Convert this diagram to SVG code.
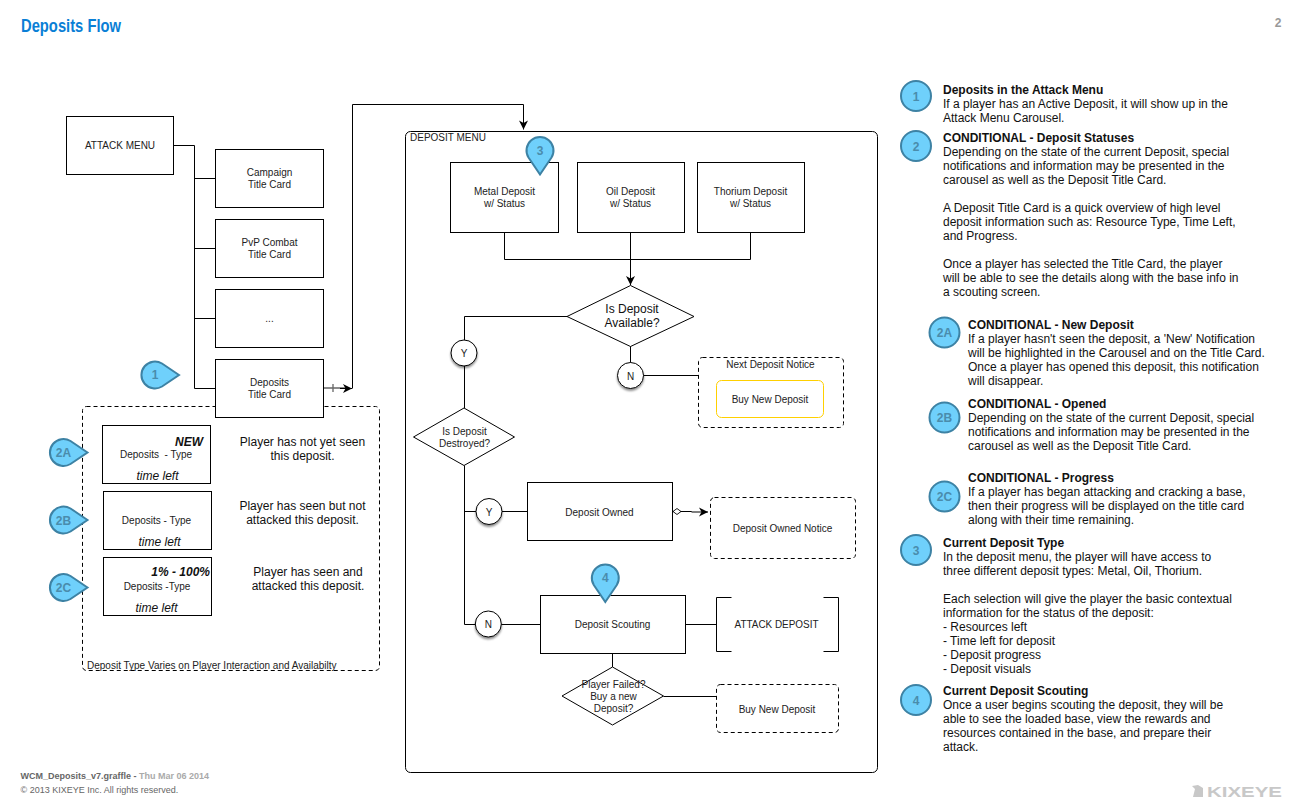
<svg xmlns="http://www.w3.org/2000/svg" width="1300" height="812" viewBox="0 0 1300 812">
<style>
text{font-family:"Liberation Sans",Arial,Helvetica,sans-serif;font-size:10px;fill:#222}
.m{text-anchor:middle}
.t12{font-size:12px;fill:#111}
.b{font-weight:bold}
.i{font-style:italic}
.box{fill:#fff;stroke:#000;stroke-width:1}
.dash{fill:#fff;stroke:#000;stroke-width:1;stroke-dasharray:4 3}
.con{fill:none;stroke:#000;stroke-width:1}
.ball{fill:#6fd0fb;stroke:#3d82a4;stroke-width:2}
.bt{font-size:12px;font-weight:bold;fill:#4a8cac;text-anchor:middle}
.yn{fill:#fff;stroke:#000;stroke-width:1;filter:url(#sh)}
</style>
<defs>
<filter id="sh" x="-30%" y="-30%" width="160%" height="170%"><feDropShadow dx="0" dy="2" stdDeviation="1.2" flood-color="#000" flood-opacity="0.45"/></filter>
<marker id="arr" markerUnits="userSpaceOnUse" markerWidth="13" markerHeight="12" refX="10" refY="6" orient="auto"><path d="M1 1.500 L10 6 L1 10.500 L3.500 6Z" fill="#000"/></marker>
<marker id="dia" markerUnits="userSpaceOnUse" markerWidth="12" markerHeight="8" refX="0" refY="4" orient="auto"><path d="M0.5 4 L4.500 1 L8.500 4 L4.500 7Z" fill="#fff" stroke="#000" stroke-width="0.9"/></marker>
<path id="dropR" class="ball" d="M24 0 L7 -11.500 A13.500 13.500 0 1 0 7 11.500Z"/>
<path id="dropD" class="ball" d="M0 24 L11.500 7 A13.500 13.500 0 1 0 -11.500 7Z"/>
</defs>
<rect width="1300" height="812" fill="#fff"/>

<text x="21" y="32" class="b" style="font-size:18px;fill:#0a7fd6" textLength="100" lengthAdjust="spacingAndGlyphs">Deposits Flow</text>
<text x="1278" y="27" class="b m" style="font-size:12px;fill:#999">2</text>

<g id="group-deposit-types">
<rect class="dash" x="82.5" y="406.5" width="297" height="264" rx="4"/>
<text x="87" y="669">Deposit Type Varies on Player Interaction and Availabilty</text>
</g>
<g id="group-deposit-menu">
<rect x="405.5" y="131.5" width="472" height="641" rx="5" fill="#fff" stroke="#000"/>
<text x="410" y="141">DEPOSIT MENU</text>
</g>

<g id="connectors">
<path class="con" d="M173.5 145.500H194.500M194.500 145.500V388.500M194.500 178.500H215.500M194.500 248.500H215.500M194.500 318.500H215.500M194.500 388.500H215.500"/>
<path d="M323.500 388H345M333 384V392" fill="none" stroke="#666" stroke-width="1.300"/>
<path class="con" d="M340 388.500H352" marker-end="url(#arr)"/>
<path class="con" d="M352.500 388.500V104.500H523.500V129.500" marker-end="url(#arr)"/>
<path class="con" d="M504.500 232.500V259.500H750.500V232.500M630.500 232.500V285" marker-end="url(#arr)"/>
<path class="con" d="M567.500 316.500H464.500V408"/>
<path class="con" d="M630.500 346V375.500H698.500"/>
<path class="con" d="M464.500 465.500V624.500H488M464.500 511.500H527.500M488 624.500H540.500"/>
<path class="con" d="M672.500 511.500H691.500V512H708" marker-start="url(#dia)" marker-end="url(#arr)"/>
<path class="con" d="M685.500 624.500H716.500M612.500 653.500V667M663.500 696.500H716.500"/>
</g>

<g id="attack-menu"><rect class="box" x="66.5" y="116.5" width="107" height="58"/><text class="m" x="120" y="149">ATTACK MENU</text></g>
<g id="campaign-card"><rect class="box" x="215.5" y="149.5" width="108" height="58"/><text class="m" x="269.5" y="176">Campaign</text><text class="m" x="269.5" y="188">Title Card</text></g>
<g id="pvp-card"><rect class="box" x="215.5" y="219.5" width="108" height="58"/><text class="m" x="269.5" y="246">PvP Combat</text><text class="m" x="269.5" y="258">Title Card</text></g>
<g id="more-card"><rect class="box" x="215.5" y="289.5" width="108" height="58"/><text class="m" x="269.5" y="322">...</text></g>
<g id="deposits-card"><rect class="box" x="215.5" y="359.5" width="108" height="58"/><text class="m" x="269.5" y="386">Deposits</text><text class="m" x="269.5" y="398">Title Card</text></g>

<g id="type-new"><rect class="box" x="102.5" y="425.5" width="108" height="58"/>
<text x="203" y="446" class="t12 b i" text-anchor="end">NEW</text><text x="120" y="458" xml:space="preserve">Deposits  - Type</text><text class="t12 i m" x="157.5" y="480">time left</text></g>
<g id="type-opened"><rect class="box" x="103.5" y="491.5" width="108" height="58"/>
<text class="m" x="156.5" y="524">Deposits - Type</text><text class="t12 i m" x="159.5" y="546">time left</text></g>
<g id="type-progress"><rect class="box" x="103.5" y="557.5" width="108" height="58"/>
<text x="210" y="576" class="t12 b i" text-anchor="end">1% - 100%</text><text class="m" x="157" y="590">Deposits -Type</text><text class="t12 i m" x="156.5" y="612">time left</text></g>

<g id="type-notes">
<text class="t12 m" x="302.5" y="446">Player has not yet seen</text><text class="t12 m" x="302.5" y="460">this deposit.</text>
<text class="t12 m" x="302.5" y="510">Player has seen but not</text><text class="t12 m" x="302.5" y="524">attacked this deposit.</text>
<text class="t12 m" x="308" y="576">Player has seen and</text><text class="t12 m" x="308" y="590">attacked this deposit.</text>
</g>

<g id="metal"><rect class="box" x="450.5" y="162.5" width="108" height="70"/><text class="m" x="504.5" y="195">Metal Deposit</text><text class="m" x="504.5" y="207">w/ Status</text></g>
<g id="oil"><rect class="box" x="577.5" y="162.5" width="107" height="70"/><text class="m" x="630.5" y="195">Oil Deposit</text><text class="m" x="630.5" y="207">w/ Status</text></g>
<g id="thorium"><rect class="box" x="697.5" y="162.5" width="107" height="70"/><text class="m" x="750.5" y="195">Thorium Deposit</text><text class="m" x="750.5" y="207">w/ Status</text></g>

<g id="available"><path class="box" d="M630.5 285.500L694 316.500L630.500 346.500L567 316.500Z"/><text class="t12 m" x="632" y="313">Is Deposit</text><text class="t12 m" x="632" y="327">Available?</text></g>
<g id="y1"><circle class="yn" cx="464" cy="353" r="13"/><text class="m" x="464" y="357">Y</text></g>
<g id="n1"><circle class="yn" cx="630.5" cy="375.5" r="13"/><text class="m" x="630.5" y="380">N</text></g>
<g id="next-notice"><rect class="dash" x="698.5" y="357.5" width="145" height="70" rx="4"/><text class="m" x="770.5" y="368">Next Deposit Notice</text>
<rect x="716.5" y="380.5" width="107" height="37" rx="5" fill="#fff" stroke="#ffd000"/><text class="m" x="770" y="403">Buy New Deposit</text></g>

<g id="destroyed"><path class="box" d="M464 408L514.500 437L464 465.500L413.500 437Z"/><text class="m" x="464.5" y="435">Is Deposit</text><text class="m" x="464.5" y="447">Destroyed?</text></g>
<g id="y2"><circle class="yn" cx="489" cy="511.5" r="13"/><text class="m" x="489" y="516">Y</text></g>
<g id="n2"><circle class="yn" cx="488.3" cy="624" r="13"/><text class="m" x="488.3" y="628">N</text></g>
<g id="owned"><rect class="box" x="527.5" y="482.5" width="145" height="58"/><text class="m" x="599.5" y="516">Deposit Owned</text></g>
<g id="owned-notice"><rect class="dash" x="710.5" y="497.5" width="145" height="61" rx="4"/><text class="m" x="782.5" y="532">Deposit Owned Notice</text></g>
<g id="scouting"><rect class="box" x="540.5" y="595.5" width="145" height="58"/><text class="m" x="612.5" y="628">Deposit Scouting</text></g>
<g id="attack-deposit"><path class="con" d="M731.500 597.500H716.500V651.500H731.500M823.500 597.500H838.500V651.500H823.500"/><text class="m" x="776.5" y="628" textLength="84" lengthAdjust="spacingAndGlyphs">ATTACK DEPOSIT</text></g>
<g id="failed"><path class="box" d="M612.500 667L663.500 696L612.500 725L562 696Z"/><text class="m" x="613.5" y="688">Player Failed?</text><text class="m" x="613.5" y="700">Buy a new</text><text class="m" x="613.5" y="712">Deposit?</text></g>
<g id="buy-new"><rect class="dash" x="716.5" y="684.5" width="122" height="48" rx="4"/><text class="m" x="777" y="713">Buy New Deposit</text></g>

<g id="marker-1"><use href="#dropR" x="155" y="375"/><text class="bt" x="155" y="379">1</text></g>
<g id="marker-2a"><use href="#dropR" x="63.5" y="452.5"/><text class="bt" x="63.5" y="457">2A</text></g>
<g id="marker-2b"><use href="#dropR" x="63.5" y="520"/><text class="bt" x="63.5" y="524.5">2B</text></g>
<g id="marker-2c"><use href="#dropR" x="63.5" y="587.5"/><text class="bt" x="63.5" y="592">2C</text></g>
<g id="marker-3"><use href="#dropD" x="540" y="150.5"/><text class="bt" x="540" y="155">3</text></g>
<g id="marker-4"><use href="#dropD" x="605.3" y="578"/><text class="bt" x="605.3" y="582">4</text></g>

<g id="legend-1"><circle class="ball" cx="916" cy="96" r="15"/><text class="bt" x="916" y="100.5">1</text>
<text class="t12 b" x="943" y="94">Deposits in the Attack Menu</text>
<text class="t12" x="943" y="108">If a player has an Active Deposit, it will show up in the</text>
<text class="t12" x="943" y="122">Attack Menu Carousel.</text></g>
<g id="legend-2"><circle class="ball" cx="916" cy="146" r="15"/><text class="bt" x="916" y="150.5">2</text>
<text class="t12 b" x="943" y="142">CONDITIONAL - Deposit Statuses</text>
<text class="t12" x="943" y="156">Depending on the state of the current Deposit, special</text>
<text class="t12" x="943" y="170">notifications and information may be presented in the</text>
<text class="t12" x="943" y="184">carousel as well as the Deposit Title Card.</text>
<text class="t12" x="943" y="212">A Deposit Title Card is a quick overview of high level</text>
<text class="t12" x="943" y="226">deposit information such as: Resource Type, Time Left,</text>
<text class="t12" x="943" y="240">and Progress.</text>
<text class="t12" x="943" y="268">Once a player has selected the Title Card, the player</text>
<text class="t12" x="943" y="282">will be able to see the details along with the base info in</text>
<text class="t12" x="943" y="296">a scouting screen.</text></g>
<g id="legend-2a"><circle class="ball" cx="944.5" cy="332.5" r="15"/><text class="bt" x="944.5" y="337">2A</text>
<text class="t12 b" x="968" y="329">CONDITIONAL - New Deposit</text>
<text class="t12" x="968" y="343">If a player hasn't seen the deposit, a 'New' Notification</text>
<text class="t12" x="968" y="357">will be highlighted in the Carousel and on the Title Card.</text>
<text class="t12" x="968" y="371">Once a player has opened this deposit, this notification</text>
<text class="t12" x="968" y="385">will disappear.</text></g>
<g id="legend-2b"><circle class="ball" cx="944.5" cy="417.5" r="15"/><text class="bt" x="944.5" y="422">2B</text>
<text class="t12 b" x="968" y="408">CONDITIONAL - Opened</text>
<text class="t12" x="968" y="422">Depending on the state of the current Deposit, special</text>
<text class="t12" x="968" y="436">notifications and information may be presented in the</text>
<text class="t12" x="968" y="450">carousel as well as the Deposit Title Card.</text></g>
<g id="legend-2c"><circle class="ball" cx="944.5" cy="496.5" r="15"/><text class="bt" x="944.5" y="501">2C</text>
<text class="t12 b" x="968" y="482">CONDITIONAL - Progress</text>
<text class="t12" x="968" y="496">If a player has began attacking and cracking a base,</text>
<text class="t12" x="968" y="510">then their progress will be displayed on the title card</text>
<text class="t12" x="968" y="524">along with their time remaining.</text></g>
<g id="legend-3"><circle class="ball" cx="916" cy="550" r="15"/><text class="bt" x="916" y="554.5">3</text>
<text class="t12 b" x="943" y="547">Current Deposit Type</text>
<text class="t12" x="943" y="561">In the deposit menu, the player will have access to</text>
<text class="t12" x="943" y="575">three different deposit types: Metal, Oil, Thorium.</text>
<text class="t12" x="943" y="603">Each selection will give the player the basic contextual</text>
<text class="t12" x="943" y="617">information for the status of the deposit:</text>
<text class="t12" x="943" y="631">- Resources left</text>
<text class="t12" x="943" y="645">- Time left for deposit</text>
<text class="t12" x="943" y="659">- Deposit progress</text>
<text class="t12" x="943" y="673">- Deposit visuals</text></g>
<g id="legend-4"><circle class="ball" cx="916" cy="700" r="15"/><text class="bt" x="916" y="704.5">4</text>
<text class="t12 b" x="943" y="695">Current Deposit Scouting</text>
<text class="t12" x="943" y="709">Once a user begins scouting the deposit, they will be</text>
<text class="t12" x="943" y="723">able to see the loaded base, view the rewards and</text>
<text class="t12" x="943" y="737">resources contained in the base, and prepare their</text>
<text class="t12" x="943" y="751">attack.</text></g>

<g id="footer">
<text x="20.5" y="779" class="b" style="font-size:9px;fill:#666">WCM_Deposits_v7.graffle - <tspan style="fill:#aaa">Thu Mar 06 2014</tspan></text>
<text x="20.5" y="793" style="font-size:9px;fill:#666">© 2013 KIXEYE Inc. All rights reserved.</text>
</g>
<g id="logo">
<path d="M1193 797L1195 789L1192 786L1198 785L1203 788L1203 797Z" fill="#c8c8c8"/>
<text x="1207" y="797" class="b" style="font-size:15px;fill:#c8c8c8" textLength="75" lengthAdjust="spacingAndGlyphs">KIXEYE</text>
</g>
</svg>
